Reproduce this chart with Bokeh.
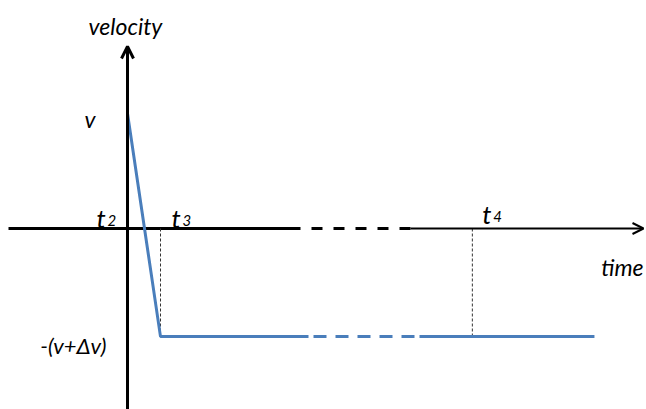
from bokeh.plotting import figure
from bokeh.models import Range1d, Arrow, OpenHead, Label
from bokeh.embed import file_html
from bokeh.resources import INLINE

# Key instants on the time axis (t2 at the origin)
time_labels = ["t", "t", "t"]
time_subs = ["2", "3", "4"]
time_marks = [0.0, 1.0, 10.45]
t_end = 14.15

# Velocity levels
v_start = 1.0
v_final = -0.94
level_labels = ["v", "-(v+Δv)"]

# Velocity profile: drop from v to -(v+Δv) between t2 and t3, then constant
prof_t = [time_marks[0], time_marks[1]]
prof_v = [v_start, v_final]

FONT = "Lato"
BLUE = "#4a7ebb"

PX_X = 33.0   # pixels per time unit
PX_Y = 115.0  # pixels per velocity unit
W, H = 646, 409
x0 = -127 / PX_X
y1 = 228 / PX_Y

p = figure(width=W, height=H, output_backend="svg", toolbar_location=None,
           x_range=Range1d(x0, x0 + W / PX_X), y_range=Range1d(y1 - H / PX_Y, y1),
           min_border=0)
p.axis.visible = False
p.grid.visible = False
p.outline_line_color = None
p.background_fill_color = "white"
p.border_fill_color = "white"

def xp(px):
    return x0 + px / PX_X

def yp(py):
    return y1 - py / PX_Y

# --- horizontal (time) axis with a broken middle section
p.line([xp(8), xp(300)], [0, 0], line_color="black", line_width=3)
p.line([xp(311), xp(410)], [0, 0], line_color="black", line_width=3, line_dash="11 11")
p.add_layout(Arrow(end=OpenHead(size=11, line_width=2, line_color="black"),
                   x_start=xp(410), y_start=0, x_end=xp(643), y_end=0,
                   line_color="black", line_width=2))

# --- vertical (velocity) axis
p.add_layout(Arrow(end=OpenHead(size=12, line_width=3, line_color="black"),
                   x_start=0, y_start=yp(H), x_end=0, y_end=yp(46),
                   line_color="black", line_width=3))

# --- guide lines down from t3 and t4
for tm in time_marks[1:]:
    p.line([tm, tm], [0, v_final], line_color="#333333", line_width=1, line_dash="3 2")

# --- velocity profile
p.line(prof_t + [xp(308)], prof_v + [v_final], line_color=BLUE, line_width=3)
p.line([xp(313), xp(414)], [v_final, v_final], line_color=BLUE, line_width=3, line_dash="13 9")
p.line([xp(419), t_end], [v_final, v_final], line_color=BLUE, line_width=3)

def label(x, y, text, size, align="left", x_offset=0):
    p.add_layout(Label(x=x, y=y, text=text, x_offset=x_offset,
                       text_font=FONT, text_font_style="italic",
                       text_font_size=f"{size}px", text_color="black",
                       text_align=align, text_baseline="alphabetic"))

# axis titles
label(0, yp(25), "velocity", 23, align="center", x_offset=-2)
label(xp(643), yp(266), "time", 23, align="right")

# velocity level labels
label(0, v_start - 5 / PX_Y, level_labels[0], 23, align="left", x_offset=-43)
label(0, v_final - 9 / PX_Y, level_labels[1], 22, align="right", x_offset=-21)

# time instant labels with subscripts
t_offsets = [-31, 11, 10]
t_base = [217, 217, 213]
for tm, t, s, off, b in zip(time_marks, time_labels, time_subs, t_offsets, t_base):
    label(tm, yp(b), t, 26, x_offset=off)
    label(tm, yp(b + 3), s, 15, x_offset=off + 11)

open("out.html", "w").write(file_html(p, INLINE))
